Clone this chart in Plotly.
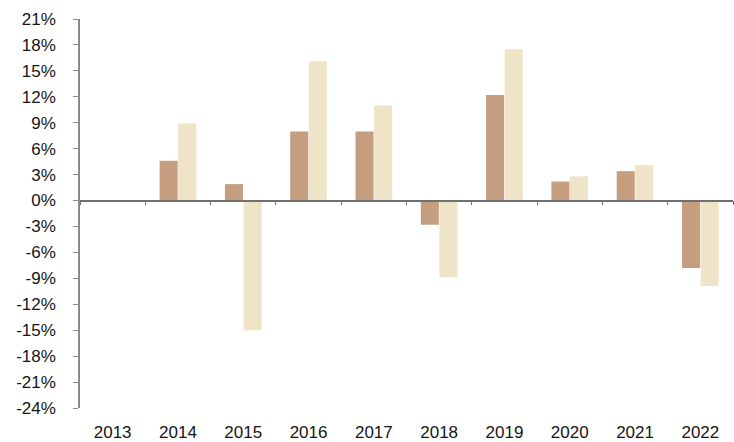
import plotly.graph_objects as go

years = ["2013", "2014", "2015", "2016", "2017", "2018", "2019", "2020", "2021", "2022"]
series_a = [None, 4.6, 1.9, 8.0, 8.0, -2.8, 12.2, 2.2, 3.4, -7.8]
series_b = [None, 8.9, -15.0, 16.1, 11.0, -8.9, 17.5, 2.8, 4.1, -9.9]
y_ticks = list(range(-24, 22, 3))
y_labels = [f"{v}%" for v in y_ticks]

font_family = "Liberation Sans, Arial, sans-serif"

fig = go.Figure()
fig.add_trace(go.Bar(x=years, y=series_a, marker=dict(color="#C49E7E", line=dict(width=0)), name="A"))
fig.add_trace(go.Bar(x=years, y=series_b, marker=dict(color="#EFE3C8", line=dict(width=0)), name="B"))

# invisible trace to host the zero-line axis with boundary ticks
fig.add_trace(go.Scatter(x=[-0.5, len(years) - 0.5], y=[0, 0], xaxis="x2", mode="lines",
                         line=dict(width=0), hoverinfo="skip", showlegend=False))

ymin, ymax = -24, 21
fig.update_layout(
    width=734, height=442,
    margin=dict(l=80, r=1, t=19, b=34),
    paper_bgcolor="white", plot_bgcolor="white",
    barmode="group", bargap=0.43, bargroupgap=0.03,
    showlegend=False,
    font=dict(family=font_family, size=17, color="#151515"),
    xaxis=dict(type="category", range=[-0.5, len(years) - 0.5], showline=False, showgrid=False,
               zeroline=False, ticks="", ticklabelstandoff=12, tickfont=dict(size=17),
               automargin=False),
    xaxis2=dict(overlaying="x", anchor="free", position=(0 - ymin) / (ymax - ymin),
                range=[-0.5, len(years) - 0.5], showline=True, linecolor="#707070", linewidth=1.5,
                tickvals=[i - 0.5 for i in range(len(years) + 1)], ticks="outside", ticklen=4,
                tickcolor="#707070", showticklabels=False, showgrid=False, zeroline=False,
                automargin=False),
    yaxis=dict(range=[ymin, ymax], tickvals=y_ticks, ticktext=y_labels, showgrid=False,
               zeroline=False, showline=True, linecolor="#8a8a8a", linewidth=1.5,
               ticks="outside", ticklen=5, tickcolor="#8a8a8a", ticklabelstandoff=14,
               tickfont=dict(size=17), automargin=False),
)

fig.write_html("out.html", config={"displayModeBar": False},
               post_script="document.body.style.margin='0';document.body.style.overflow='hidden';")
